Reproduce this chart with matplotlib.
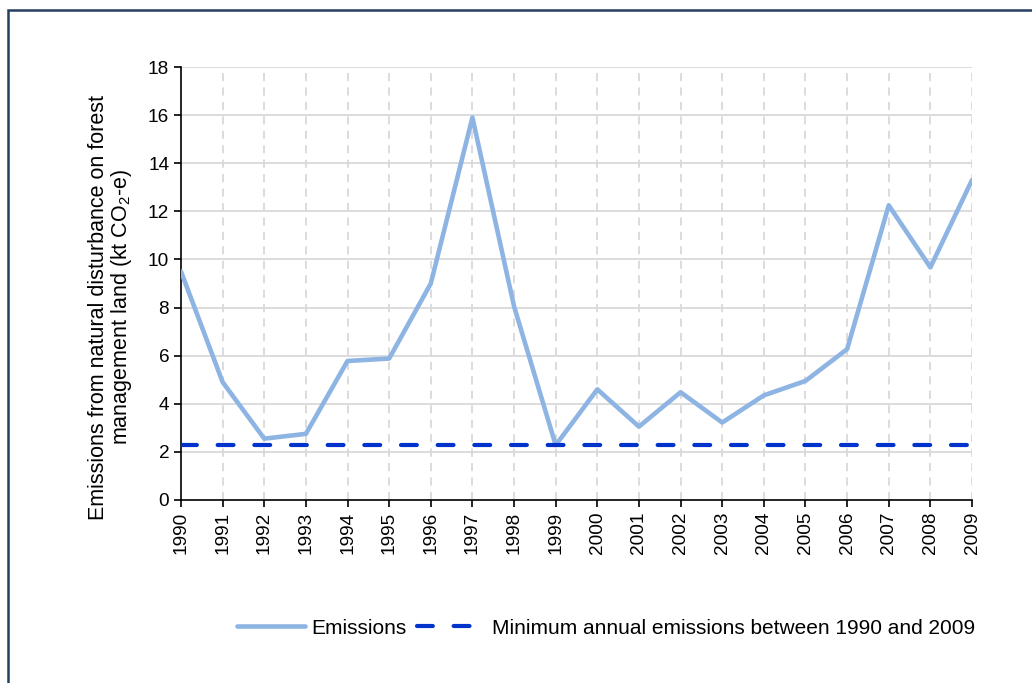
import matplotlib
matplotlib.use("Agg")
import matplotlib.pyplot as plt
from matplotlib.patches import Rectangle

plt.rcParams['font.family'] = ['Liberation Sans', 'DejaVu Sans']
plt.rcParams['mathtext.fontset'] = 'custom'
plt.rcParams['mathtext.rm'] = 'Liberation Sans'
plt.rcParams['mathtext.it'] = 'Liberation Sans:italic'

years = list(range(1990, 2010))
emissions = [9.5, 4.9, 2.55, 2.75, 5.78, 5.88, 9.0, 15.9, 8.05, 2.28,
             4.6, 3.05, 4.48, 3.22, 4.35, 4.95, 6.27, 12.25, 9.67, 13.3]
minimum = [min(emissions)] * len(years)
y_ticks = [0, 2, 4, 6, 8, 10, 12, 14, 16, 18]

fig = plt.figure(figsize=(10.32, 6.83), dpi=100)
ax = fig.add_axes([181/1032, 1 - 500/683, (972 - 181)/1032, (500 - 67)/683])

# figure border (left and top visible)
fig.patches.append(Rectangle((8/1032, -0.5), 2.0, 0.5 + 1 - 10/683,
                             transform=fig.transFigure, fill=False,
                             edgecolor='#243F60', linewidth=1.8))

ax.set_xlim(1990, 2009)
ax.set_ylim(0, 18)
ax.set_yticks(y_ticks)
ax.set_xticks(years)
ax.set_xticklabels([str(y) for y in years], rotation=90)

for y in y_ticks[1:]:
    ax.axhline(y, color='#D9D9D9', lw=1.3, zorder=1)
for x in years[1:]:
    ax.axvline(x, color='#D9D9D9', lw=1.3, ls=(0, (4.5, 3.5)), zorder=1)

ax.plot(years, emissions, color='#8EB4E3', lw=3.3, label='Emissions',
        solid_joinstyle='round', solid_capstyle='round', zorder=3)
ax.plot(years, minimum, color='#0033CC', lw=3.0, dashes=(3.8, 5.0),
        dash_capstyle='round', label='Minimum annual emissions between 1990 and 2009',
        zorder=4)

for s in ['top', 'right']:
    ax.spines[s].set_visible(False)
for s in ['left', 'bottom']:
    ax.spines[s].set_color('black')
    ax.spines[s].set_linewidth(1.2)
ax.tick_params(axis='both', direction='out', length=5, width=1.2,
               labelsize=13.7, colors='black')

ax.set_ylabel('Emissions from natural disturbance on forest\nmanagement land (kt CO$_2$-e)',
              fontsize=15.5, linespacing=1.0)
ax.yaxis.set_label_coords(-0.059, 0.445)

fig.legend(loc='center', bbox_to_anchor=(606/1032, 1 - 628/683), ncol=2,
           frameon=False, fontsize=15, handlelength=3.3, columnspacing=0.5,
           handletextpad=0.3)

fig.savefig('out.png', dpi=100)
